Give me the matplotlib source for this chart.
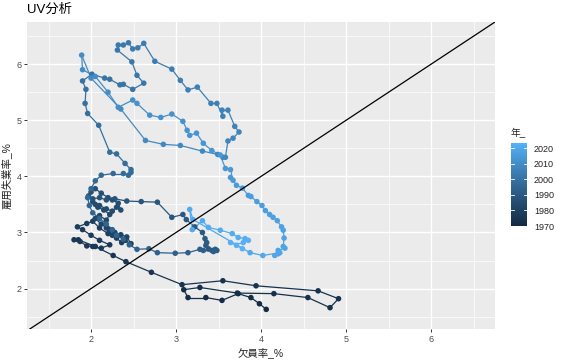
import numpy as np
import pandas as pd
import matplotlib
matplotlib.use("Agg")
import matplotlib.pyplot as plt
from matplotlib.collections import LineCollection
from matplotlib.colors import ListedColormap, Normalize

plt.rcParams['font.family'] = ['Liberation Sans', 'Noto Sans CJK JP', 'DejaVu Sans']

# ---- data (quarterly) ----
vacancy = [
    # 1970-1974
    4.06, 3.98, 3.88, 3.73, 3.54, 3.35, 3.14, 3.09, 3.28, 3.72,
    4.15, 4.55, 4.81, 4.91, 4.67, 3.94, 3.55, 3.07, 2.71, 2.41,
    # 1975-1987
    2.26, 2.05, 1.85, 1.80, 1.87, 1.95, 2.02, 2.12, 2.22, 2.10, 2.00, 1.90,
    1.84, 1.95, 2.02, 2.10, 2.20, 2.30, 2.36, 2.40, 2.47, 2.42, 2.35, 2.28,
    2.22, 2.25, 2.18, 2.12, 2.05, 2.10, 2.18, 2.22, 2.15, 2.08, 2.02, 2.05,
    2.10, 2.18, 2.25, 2.30, 2.35, 2.32, 2.25, 2.20, 2.12, 2.05, 2.00, 1.97,
    2.02, 2.10, 2.18, 2.28,
    # 1988-1991
    2.42, 2.59, 2.78, 2.95, 3.08, 3.12, 3.22, 3.31, 3.34, 3.36, 3.35, 3.38,
    3.42, 3.46, 3.48, 3.44,
    # 1992-1998
    3.32, 3.28, 3.14, 2.99, 2.78, 2.68, 2.54, 2.45, 2.38, 2.30, 2.25, 2.18,
    2.10, 2.02, 1.98, 1.96, 2.00, 2.05, 2.12, 2.26, 2.38, 2.44, 2.47, 2.47,
    2.40, 2.30, 2.22, 2.09,
    # 1999-2002
    1.96, 1.93, 1.94, 1.90, 2.01, 2.16, 2.22, 2.34, 2.38, 2.49, 2.62, 2.54,
    2.48, 2.31, 2.32, 2.38,
    # 2003-2007
    2.44, 2.49, 2.55, 2.62, 2.75, 2.95, 3.05, 3.14, 3.25, 3.41, 3.48, 3.55,
    3.54, 3.61, 3.69, 3.74, 3.67, 3.61, 3.58, 3.55,
    # 2008-2009
    3.49, 3.31, 3.05, 2.85, 2.64, 2.35, 2.00, 1.89,
    # 2010-2013
    1.90, 2.05, 2.20, 2.32, 2.49, 2.54, 2.69, 2.82, 2.95, 3.08, 3.13, 3.16,
    3.24, 3.32, 3.42, 3.52,
    # 2014-2019
    3.58, 3.64, 3.64, 3.67, 3.71, 3.78, 3.85, 3.88, 3.95, 4.01, 4.05, 4.10,
    4.14, 4.19, 4.24, 4.26, 4.27, 4.26, 4.28, 4.20, 4.16, 4.20, 4.22, 4.02,
    # 2020-2023
    3.87, 3.20, 3.16, 3.19, 3.31, 3.38, 3.52, 3.66, 3.73, 3.81, 3.85, 3.79,
    3.64, 3.71, 3.78,
]
unemployment = [
    # 1970-1974
    1.63, 1.73, 1.84, 1.91, 1.79, 1.84, 1.84, 1.98, 2.02, 1.92,
    1.91, 1.84, 1.66, 1.82, 1.96, 2.05, 2.14, 2.07, 2.29, 2.48,
    # 1975-1987
    2.59, 2.75, 2.87, 2.87, 2.84, 2.76, 2.75, 2.72, 2.78, 2.86, 2.95, 3.05,
    3.10, 3.16, 3.20, 3.08, 2.98, 2.90, 2.82, 2.86, 2.80, 2.92, 2.96, 3.00,
    3.05, 2.95, 3.08, 3.15, 3.25, 3.30, 3.22, 3.32, 3.40, 3.45, 3.55, 3.50,
    3.48, 3.42, 3.38, 3.45, 3.40, 3.52, 3.58, 3.62, 3.70, 3.78, 3.72, 3.65,
    3.60, 3.62, 3.58, 3.60,
    # 1988-1991
    3.56, 3.55, 3.54, 3.27, 3.32, 3.23, 3.10, 3.00, 2.89, 2.82, 2.77, 2.71,
    2.68, 2.70, 2.68, 2.66,
    # 1992-1998
    2.68, 2.70, 2.64, 2.63, 2.64, 2.71, 2.70, 2.78, 2.88, 2.95, 3.05, 3.15,
    3.25, 3.35, 3.48, 3.62, 3.78, 3.92, 4.02, 4.05, 4.05, 4.02, 4.07, 4.12,
    4.23, 4.40, 4.43, 4.91,
    # 1999-2002
    5.12, 5.30, 5.55, 5.70, 5.82, 5.75, 5.73, 5.63, 5.64, 5.55, 5.66, 5.80,
    6.04, 6.25, 6.34, 6.34,
    # 2003-2007
    6.38, 6.27, 6.29, 6.37, 6.05, 5.91, 5.71, 5.54, 5.59, 5.30, 5.30, 5.07,
    5.18, 5.18, 4.89, 4.79, 4.68, 4.63, 4.34, 4.34,
    # 2008-2009
    4.39, 4.45, 4.55, 4.57, 4.64, 5.20, 5.75, 6.16,
    # 2010-2013
    5.90, 5.78, 5.50, 5.23, 5.36, 5.30, 5.09, 5.05, 5.11, 4.98, 4.82, 4.73,
    4.77, 4.59, 4.46, 4.38,
    # 2014-2019
    4.14, 4.12, 3.98, 3.93, 3.84, 3.79, 3.66, 3.64, 3.55, 3.48, 3.39, 3.32,
    3.27, 3.21, 3.10, 3.04, 2.90, 2.75, 2.72, 2.68, 2.59, 2.62, 2.64, 2.59,
    # 2020-2023
    2.64, 3.23, 3.41, 3.05, 3.21, 3.09, 3.04, 2.98, 2.91, 2.89, 2.86, 2.82,
    2.82, 2.77, 2.71,
]
quarters = pd.period_range('1970Q1', periods=len(vacancy), freq='Q')
year = np.array([p.year + (p.quarter - 1) / 4 for p in quarters])

legend_ticks = [1970, 1980, 1990, 2000, 2010, 2020]
x_ticks = [2, 3, 4, 5, 6]
y_ticks = [2, 3, 4, 5, 6]

# ---- ggplot2 default continuous colour scale (Lab interpolation) ----
def hex2rgb(h):
    h = h.lstrip('#')
    return np.array([int(h[i:i + 2], 16) / 255 for i in (0, 2, 4)])

M = np.array([[0.4124, 0.3576, 0.1805], [0.2126, 0.7152, 0.0722], [0.0193, 0.1192, 0.9505]])
WHITE = np.array([0.95047, 1.0, 1.08883])

def rgb2lab(c):
    lin = np.where(c <= 0.04045, c / 12.92, ((c + 0.055) / 1.055) ** 2.4)
    xyz = M @ lin / WHITE
    f = np.where(xyz > 0.008856, np.cbrt(xyz), 7.787 * xyz + 16 / 116)
    return np.array([116 * f[1] - 16, 500 * (f[0] - f[1]), 200 * (f[1] - f[2])])

def lab2rgb(lab):
    fy = (lab[0] + 16) / 116
    fx = fy + lab[1] / 500
    fz = fy - lab[2] / 200
    f = np.array([fx, fy, fz])
    xyz = np.where(f ** 3 > 0.008856, f ** 3, (f - 16 / 116) / 7.787) * WHITE
    lin = np.linalg.inv(M) @ xyz
    lin = np.clip(lin, 0, 1)
    return np.where(lin <= 0.0031308, 12.92 * lin, 1.055 * lin ** (1 / 2.4) - 0.055)

lo, hi = rgb2lab(hex2rgb('#132B43')), rgb2lab(hex2rgb('#56B1F7'))
cols = [np.clip(lab2rgb(lo + (hi - lo) * t), 0, 1) for t in np.linspace(0, 1, 256)]
cmap = ListedColormap(cols)
norm = Normalize(vmin=year.min(), vmax=year.max())

# ---- figure ----
W, H = 562, 361
fig = plt.figure(figsize=(W / 100, H / 100), dpi=100)
L, R, T, B = 27, 495, 22, 329
ax = fig.add_axes([L / W, 1 - B / H, (R - L) / W, (B - T) / H])
ax.set_facecolor('#EBEBEB')
ax.set_xlim(1.247, 6.75)
ax.set_ylim(1.28, 6.75)
for s in ax.spines.values():
    s.set_visible(False)
ax.set_xticks(x_ticks)
ax.set_yticks(y_ticks)
ax.set_xticks([1.5, 2.5, 3.5, 4.5, 5.5, 6.5], minor=True)
ax.set_yticks([1.5, 2.5, 3.5, 4.5, 5.5, 6.5], minor=True)
ax.grid(which='major', color='white', lw=1.0)
ax.grid(which='minor', color='white', lw=0.5)
ax.set_axisbelow(True)
ax.tick_params(which='major', length=2.5, width=0.7, color='#333333',
               labelsize=6.5, labelcolor='#4D4D4D', pad=1.5)
ax.tick_params(which='minor', length=0)

# path
pts = np.column_stack([vacancy, unemployment])
segs = np.stack([pts[:-1], pts[1:]], axis=1)
lc = LineCollection(segs, colors=cmap(norm(year[:-1])), linewidths=0.9, zorder=2)
ax.add_collection(lc)
ax.scatter(vacancy, unemployment, c=year, cmap=cmap, norm=norm, s=16,
           linewidths=0, zorder=3)
# 45 degree line
ax.axline((0, 0), slope=1, color='black', lw=0.9, zorder=4)

ax.set_xlabel('欠員率_%', fontsize=7.5, color='#222222', labelpad=3)
ax.set_ylabel('雇用失業率_%', fontsize=7.5, color='#222222', labelpad=3)
fig.text(27 / W, 1 - 10 / H, 'UV分析', fontsize=9.5, va='center', ha='left', color='black')

# colour bar legend
cb_l, cb_r, cb_t, cb_b = 511, 527, 143, 226
cax = fig.add_axes([cb_l / W, 1 - cb_b / H, (cb_r - cb_l) / W, (cb_b - cb_t) / H])
grad = np.linspace(year.min(), year.max(), 200).reshape(-1, 1)
cax.imshow(grad, aspect='auto', cmap=cmap, norm=norm, origin='lower',
           extent=[0, 1, year.min(), year.max()])
cax.set_xlim(0, 1)
cax.set_ylim(year.min(), year.max())
cax.set_xticks([])
cax.yaxis.tick_right()
cax.set_yticks(legend_ticks)
cax.set_yticklabels([str(t) for t in legend_ticks])
cax.tick_params(axis='y', length=0, labelsize=6.5, labelcolor='#222222', pad=5)
for s in cax.spines.values():
    s.set_visible(False)
for t in legend_ticks:
    cax.plot([0, 0.2], [t, t], color='white', lw=0.6)
    cax.plot([0.8, 1], [t, t], color='white', lw=0.6)
fig.text(cb_l / W, 1 - 133 / H, '年_', fontsize=7, ha='left', va='center', color='#222222')

fig.savefig('out.png', dpi=100)
